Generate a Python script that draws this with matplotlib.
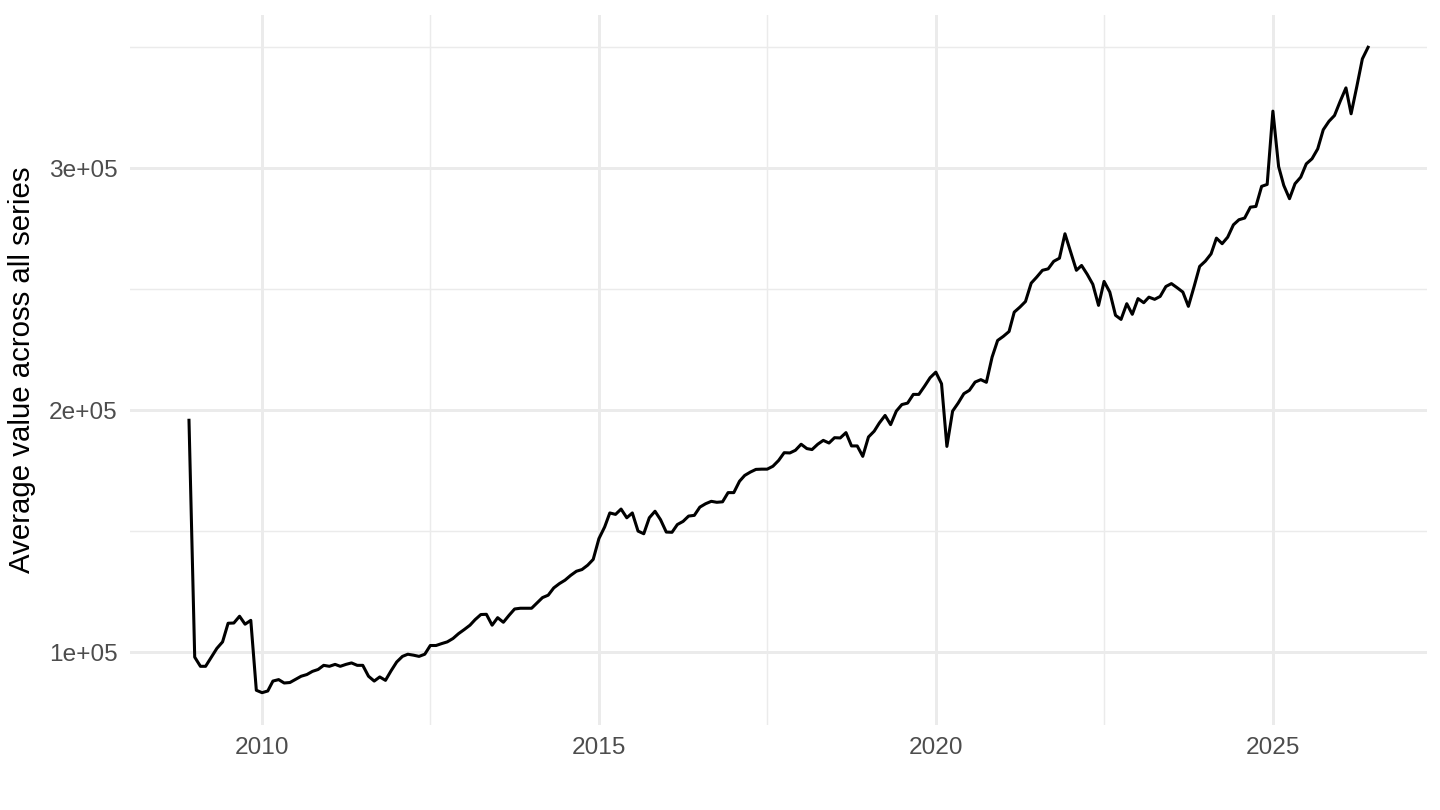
import numpy as np
import pandas as pd
import matplotlib
matplotlib.use("Agg")
import matplotlib.pyplot as plt
import matplotlib.dates as mdates

plt.rcParams['font.family'] = ['Liberation Sans', 'DejaVu Sans']

# monthly averages, Dec 2008 .. Jun 2026 (values in thousands)
start_month = "2008-12-01"
v2008 = [195.9]
v2009 = [98.0, 94.2, 94.2, 98.0, 101.6, 104.3, 112.0, 112.1, 114.9, 111.6, 113.2, 84.3]
v2010 = [83.3, 84.0, 88.1, 88.7, 87.3, 87.5, 88.8, 90.1, 90.8, 92.1, 92.9, 94.6]
v2011 = [94.2, 95.0, 94.2, 95.0, 95.6, 94.6, 94.6, 90.1, 88.1, 89.8, 88.4, 92.3]
v2012 = [96.0, 98.3, 99.2, 98.8, 98.3, 99.2, 102.8, 102.8, 103.6, 104.3, 105.7, 107.7]
v2013 = [109.4, 111.2, 113.5, 115.6, 115.7, 111.2, 114.3, 112.4, 115.3, 117.9, 118.2, 118.2]
v2014 = [118.2, 120.5, 122.6, 123.6, 126.6, 128.4, 129.8, 131.8, 133.5, 134.2, 136.0, 138.4]
v2015 = [147.0, 151.8, 157.6, 157.0, 159.2, 155.6, 157.6, 150.1, 149.0, 155.6, 158.3, 154.8]
v2016 = [149.7, 149.6, 152.8, 154.1, 156.3, 156.6, 160.0, 161.4, 162.4, 162.0, 162.2, 166.0]
v2017 = [166.0, 170.7, 173.1, 174.5, 175.6, 175.7, 175.7, 176.9, 179.3, 182.5, 182.4, 183.5]
v2018 = [186.0, 184.2, 183.8, 186.0, 187.6, 186.5, 188.7, 188.6, 190.8, 185.3, 185.3, 181.0]
v2019 = [189.0, 191.4, 194.8, 197.9, 194.1, 199.7, 202.4, 203.0, 206.6, 206.6, 210.0, 213.5]
v2020 = [215.8, 211.0, 185.1, 199.7, 203.0, 206.9, 208.3, 211.7, 212.7, 211.6, 222.0, 228.9]
v2021 = [230.6, 232.6, 240.6, 242.7, 245.0, 252.6, 255.1, 257.9, 258.5, 261.6, 262.9, 273.0]
v2022 = [265.4, 257.9, 259.9, 256.2, 252.1, 243.4, 253.3, 248.9, 239.3, 237.6, 244.1, 239.7]
v2023 = [246.2, 244.5, 246.8, 245.9, 247.1, 251.2, 252.4, 250.7, 248.9, 243.0, 251.2, 259.5]
v2024 = [261.7, 264.7, 271.2, 268.9, 271.6, 276.7, 278.8, 279.5, 284.0, 284.3, 292.6, 293.4]
v2025 = [323.7, 300.8, 293.0, 287.5, 293.7, 296.4, 301.9, 304.0, 308.1, 316.0, 319.5, 321.9]
v2026 = [327.8, 333.3, 322.6, 333.9, 345.3, 350.1]

y_ticks = [100000, 200000, 300000]
y_tick_labels = ["1e+05", "2e+05", "3e+05"]
y_minor = [150000, 250000, 350000]
x_years = [2010, 2015, 2020, 2025]
x_minor = ["2012-07-02", "2017-07-02", "2022-07-02"]

vals = np.array(v2008 + v2009 + v2010 + v2011 + v2012 + v2013 + v2014 + v2015 + v2016
                + v2017 + v2018 + v2019 + v2020 + v2021 + v2022 + v2023 + v2024
                + v2025 + v2026) * 1000
dates = pd.date_range(start_month, periods=len(vals), freq="MS")

fig = plt.figure(figsize=(7.2, 4.05), dpi=200)
ax = fig.add_axes([0.0903, 0.105, 0.9007, 0.8765])

ax.plot(dates, vals, color="black", linewidth=1.1, zorder=3)

# ggplot-like 5% expansion
x0, x1 = mdates.date2num(dates[0]), mdates.date2num(dates[-1])
dx = (x1 - x0) * 0.05
ax.set_xlim(x0 - dx, x1 + dx)
dy = (vals.max() - vals.min()) * 0.05
ax.set_ylim(vals.min() - dy, vals.max() + dy)

ax.set_xticks([mdates.date2num(pd.Timestamp(f"{y}-01-01")) for y in x_years])
ax.set_xticklabels([str(y) for y in x_years])
ax.set_xticks([mdates.date2num(pd.Timestamp(d)) for d in x_minor], minor=True)
ax.set_yticks(y_ticks)
ax.set_yticklabels(y_tick_labels)
ax.set_yticks(y_minor, minor=True)

ax.grid(which="major", color="#EBEBEB", linewidth=1.07, zorder=0)
ax.grid(which="minor", color="#EBEBEB", linewidth=0.53, zorder=0)
ax.set_axisbelow(True)
for s in ax.spines.values():
    s.set_visible(False)
ax.tick_params(which="both", length=0)
ax.tick_params(axis="both", labelsize=8.8, labelcolor="#4D4D4D", pad=4.5)

ax.set_ylabel("Average value across all series", fontsize=10.6, color="black", labelpad=4.5)

fig.savefig("out.png", dpi=200)
